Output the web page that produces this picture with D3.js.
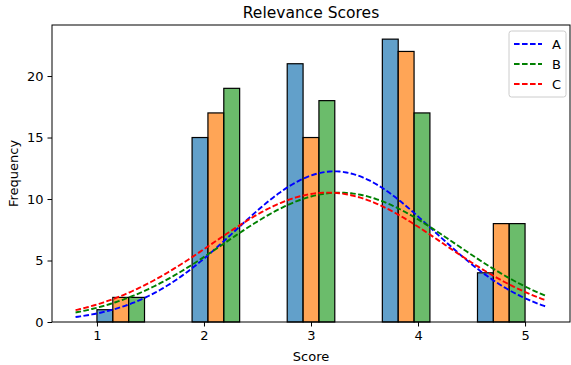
<!DOCTYPE html>
<html>
<head>
<meta charset="utf-8">
<script src="https://cdn.jsdelivr.net/npm/d3@7"></script>
<style>
  html, body { margin: 0; padding: 0; background: #fff; }
  svg { display: block; font-family: "DejaVu Sans", sans-serif; }
</style>
</head>
<body>
<svg id="chart" width="571" height="365"></svg>
<script>
// ---- data ----
const scores = [1, 2, 3, 4, 5];
const seriesNames = ["A", "B", "C"];
const countsA = [1, 15, 21, 23, 4];
const countsB = [2, 17, 15, 22, 8];
const countsC = [2, 19, 18, 17, 8];
const xTicks = [1, 2, 3, 4, 5];
const yTicks = [0, 5, 10, 15, 20];
const nBins = 9;

const barColors = ["#1f77b4", "#ff7f0e", "#2ca02c"];
const lineColors = ["blue", "green", "red"];
const allCounts = [countsA, countsB, countsC];

// ---- layout ----
const W = 571, H = 365;
const m = { left: 52, right: 1, top: 25, bottom: 43 };
const pw = W - m.left - m.right, ph = H - m.top - m.bottom;
const svg = d3.select("#chart");
const g = svg.append("g").attr("transform", `translate(${m.left},${m.top})`);

const lo = d3.min(scores), hi = d3.max(scores);
const binW = (hi - lo) / nBins;
const binStart = s => lo + Math.min(Math.floor((s - lo) / binW), nBins - 1) * binW;

const x = d3.scaleLinear().domain([0.58, 5.42]).range([0, pw]);
const y = d3.scaleLinear().domain([0, 24.15]).range([ph, 0]);

// bars
const barW = binW / allCounts.length;
allCounts.forEach((counts, si) => {
  g.append("g").selectAll("rect")
    .data(scores.map((s, i) => ({ s, v: counts[i] })))
    .join("rect")
    .attr("x", d => x(binStart(d.s) + si * barW))
    .attr("width", d => x(binStart(d.s) + (si + 1) * barW) - x(binStart(d.s) + si * barW))
    .attr("y", d => y(d.v))
    .attr("height", d => y(0) - y(d.v))
    .attr("fill", barColors[si])
    .attr("fill-opacity", 0.7)
    .attr("stroke", "#000")
    .attr("stroke-width", 1.2);
});

// fitted normal curves (derived from the histogram counts)
const xs = d3.range(0, 201).map(i => (lo - 0.2) + i * ((hi - lo) + 0.4) / 200);
const line = d3.line().x(d => x(d[0])).y(d => y(d[1]));
allCounts.forEach((counts, si) => {
  const n = d3.sum(counts);
  const mean = d3.sum(scores.map((s, i) => s * counts[i])) / n;
  const vr = d3.sum(scores.map((s, i) => (s - mean) ** 2 * counts[i])) / n;
  const sd = Math.sqrt(vr);
  const pts = xs.map(v => [v, n * binW * Math.exp(-0.5 * ((v - mean) / sd) ** 2) / (sd * Math.sqrt(2 * Math.PI))]);
  g.append("path").datum(pts)
    .attr("d", line)
    .attr("fill", "none")
    .attr("stroke", lineColors[si])
    .attr("stroke-width", 1.9)
    .attr("stroke-dasharray", "5.6,2.4");
});

// axes
const xAxis = g.append("g").attr("transform", `translate(0,${ph})`)
  .call(d3.axisBottom(x).tickValues(xTicks).tickFormat(d3.format("d")).tickSize(4.5).tickPadding(4));
const yAxis = g.append("g")
  .call(d3.axisLeft(y).tickValues(yTicks).tickFormat(d3.format("d")).tickSize(4.5).tickPadding(4));
[xAxis, yAxis].forEach(a => {
  a.select(".domain").remove();
  a.selectAll("line").attr("stroke", "#000").attr("stroke-width", 1);
  a.selectAll("text").attr("fill", "#000").style("font-size", "13px").style("font-family", "DejaVu Sans");
});

// frame
g.append("rect").attr("x", 0).attr("y", 0).attr("width", pw).attr("height", ph)
  .attr("fill", "none").attr("stroke", "#000").attr("stroke-width", 1);

// labels
svg.append("text").attr("x", m.left + pw / 2).attr("y", 18).attr("text-anchor", "middle")
  .style("font-size", "15.5px").text("Relevance Scores");
svg.append("text").attr("x", m.left + pw / 2).attr("y", 361).attr("text-anchor", "middle")
  .style("font-size", "13px").text("Score");
svg.append("text").attr("transform", `translate(18,${m.top + ph / 2}) rotate(-90)`).attr("text-anchor", "middle")
  .style("font-size", "13px").text("Frequency");

// legend
const lg = svg.append("g").attr("transform", "translate(509,31)");
lg.append("rect").attr("width", 57).attr("height", 66).attr("rx", 2.5)
  .attr("fill", "#fff").attr("fill-opacity", 0.8).attr("stroke", "#cccccc").attr("stroke-width", 1);
seriesNames.forEach((name, i) => {
  const yy = 13 + i * 20;
  lg.append("line").attr("x1", 5).attr("x2", 33).attr("y1", yy).attr("y2", yy)
    .attr("stroke", lineColors[i]).attr("stroke-width", 1.9).attr("stroke-dasharray", "5.6,2.4");
  lg.append("text").attr("x", 43).attr("y", yy + 5).style("font-size", "13px").text(name);
});
</script>
</body>
</html>
